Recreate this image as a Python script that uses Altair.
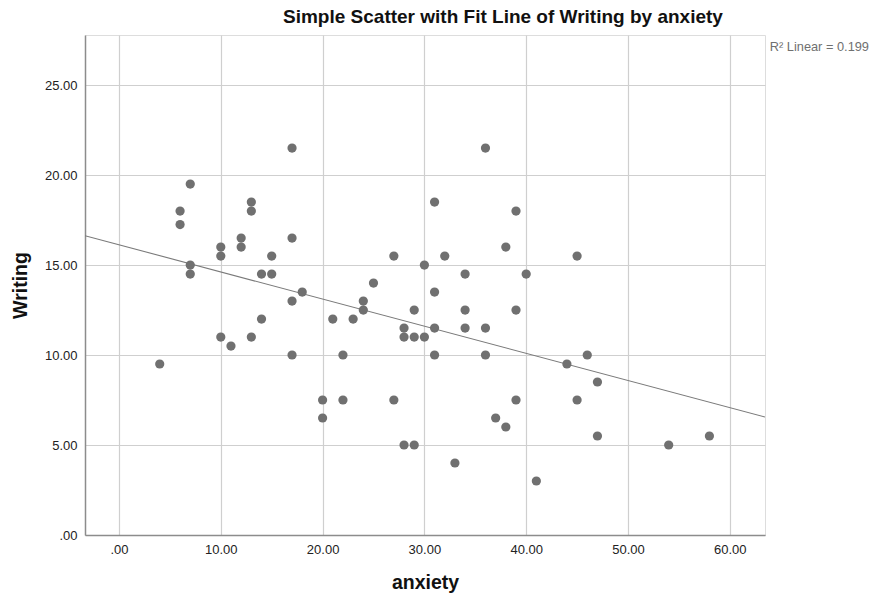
import altair as alt
import pandas as pd

anxiety = [4, 6, 6, 7, 7, 7, 10, 10, 10, 11, 12, 12, 13, 13, 13, 14, 14, 15, 15,
           17, 17, 17, 17, 18, 20, 20, 21, 22, 22, 23, 24, 24, 25, 27, 27,
           28, 28, 28, 29, 29, 29, 30, 30, 31, 31, 31, 31, 32, 33, 34, 34, 34,
           36, 36, 36, 37, 38, 38, 39, 39, 39, 40, 41, 44, 45, 45, 46, 47, 47, 54, 58]
writing = [9.5, 18, 17.25, 19.5, 15, 14.5, 16, 15.5, 11, 10.5, 16.5, 16, 18.5, 18, 11, 14.5, 12, 15.5, 14.5,
           21.5, 16.5, 13, 10, 13.5, 7.5, 6.5, 12, 10, 7.5, 12, 13, 12.5, 14, 15.5, 7.5,
           11.5, 11, 5, 12.5, 11, 5, 15, 11, 18.5, 13.5, 11.5, 10, 15.5, 4, 14.5, 12.5, 11.5,
           21.5, 11.5, 10, 6.5, 16, 6, 18, 12.5, 7.5, 14.5, 3, 9.5, 15.5, 7.5, 10, 8.5, 5.5, 5, 5.5]

x_ticks = [0, 10, 20, 30, 40, 50, 60]
y_ticks = [0, 5, 10, 15, 20, 25]
x_domain = [-3.34, 63.46]
y_domain = [0, 27.78]
r2_label = "R\u00b2 Linear = 0.199"

df = pd.DataFrame({"anxiety": anxiety, "Writing": writing})

FONT = "Liberation Sans"
label_expr = "datum.value == 0 ? '.00' : format(datum.value, '.2f')"

common = dict(grid=True, ticks=False, labelPadding=8,
              titleFontSize=19.5, titleFontWeight="bold", titleFont=FONT, titleColor="#111111",
              labelFont=FONT, labelFontSize=13, labelColor="#222222",
              domainColor="#8c8c8c", domainWidth=1.5, gridColor="#cfcfcf", gridWidth=1.2)

x_enc = alt.X("anxiety:Q", scale=alt.Scale(domain=x_domain, nice=False, zero=False),
              axis=alt.Axis(values=x_ticks, labelExpr=label_expr, title="anxiety",
                            titlePadding=17, **common))
y_enc = alt.Y("Writing:Q", scale=alt.Scale(domain=y_domain, nice=False),
              axis=alt.Axis(values=y_ticks, labelExpr=label_expr, title="Writing",
                            titlePadding=14, **common))

base = alt.Chart(df)

points = base.mark_circle(size=85, color="#707070", opacity=1).encode(x=x_enc, y=y_enc)

fit = base.transform_regression("anxiety", "Writing", extent=x_domain).mark_line(
    color="#7a7a7a", strokeWidth=1.1, clip=True).encode(x=x_enc, y=y_enc)

r2 = alt.Chart(pd.DataFrame({"t": [r2_label]})).mark_text(
    font=FONT, fontSize=12.8, color="#707070", align="right", baseline="middle"
).encode(text="t:N", x=alt.value(784), y=alt.value(12))

chart = alt.layer(fit, points, r2).properties(
    width=680, height=500,
    padding={"left": 85, "top": 35, "right": 106, "bottom": 59},
    autosize=alt.AutoSizeParams(type="none"),
    title=alt.TitleParams("Simple Scatter with Fit Line of Writing by anxiety",
                          anchor="start", frame="group", dx=198, offset=8, font=FONT,
                          fontSize=19, fontWeight="bold", color="#111111"),
).configure_view(stroke=None).configure(background="white")

chart.save("out.html", embed_options={"renderer": "svg", "actions": False})
